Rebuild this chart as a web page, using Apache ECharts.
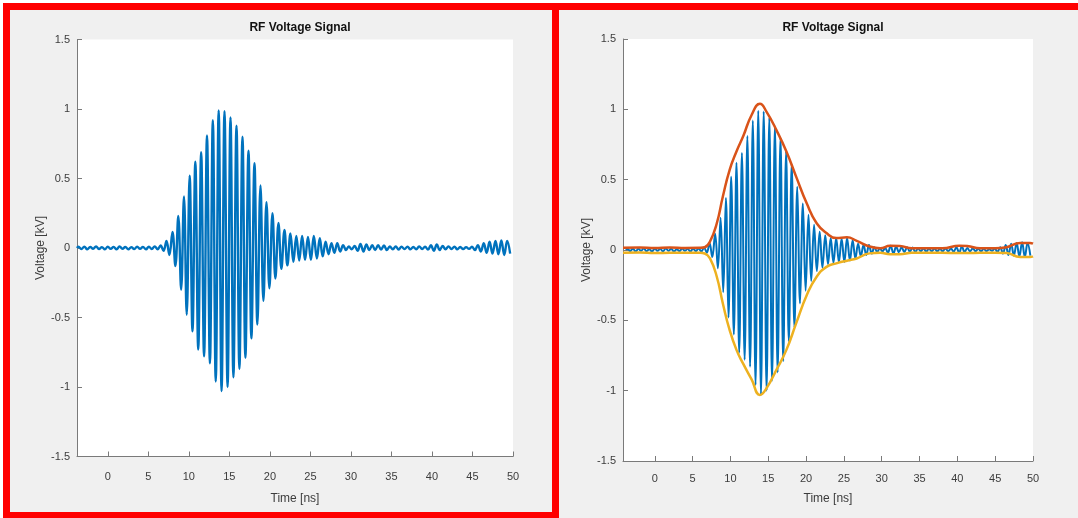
<!DOCTYPE html>
<html>
<head>
<meta charset="utf-8">
<script src="https://cdn.jsdelivr.net/npm/echarts@6/dist/echarts.min.js"></script>
<style>
html,body{margin:0;padding:0;background:#fff;}
#chart{width:1078px;height:518px;}
</style>
</head>
<body>
<div id="chart"></div>
<script>
// ---- data ----
const chartTitle = 'RF Voltage Signal';
const xAxisName = 'Time [ns]';
const yAxisName = 'Voltage [kV]';
const xTickValues = [0, 5, 10, 15, 20, 25, 30, 35, 40, 45, 50];

// RF signal: successive extremes (time in ns)
const timeNs = [
  -3.80, -3.62, -3.26, -2.90, -2.53, -2.17, -1.81, -1.45, -1.09, -0.72, -0.36, 0.00,
  0.36, 0.72, 1.09, 1.45, 1.81, 2.17, 2.53, 2.90, 3.26, 3.62, 3.98, 4.34, 4.71, 5.07,
  5.43, 5.79, 6.15, 6.52, 6.88,
  7.24, 7.60, 7.98, 8.34, 8.70, 9.05, 9.40, 9.74, 10.10, 10.45, 10.80, 11.16, 11.52,
  11.88, 12.24, 12.60, 12.96, 13.32, 13.68, 14.04, 14.40, 14.78, 15.14, 15.50, 15.88,
  16.24, 16.62, 16.98, 17.36, 17.72, 18.10, 18.46, 18.84, 19.20, 19.58, 19.94, 20.32,
  20.68, 21.06, 21.42, 21.80, 22.16, 22.54, 22.90, 23.26, 23.62, 23.98, 24.34, 24.70,
  25.06, 25.42, 25.80, 26.16, 26.52, 26.88, 27.24, 27.60, 27.96, 28.32, 28.68, 29.04,
  29.40, 29.74, 30.10,
  30.46, 30.82, 31.18, 31.55, 31.91, 32.27, 32.63, 32.99, 33.36, 33.72, 34.08, 34.44,
  34.80, 35.17, 35.53, 35.89, 36.25, 36.61, 36.98, 37.34, 37.70, 38.06, 38.42, 38.79,
  39.15, 39.51, 39.87, 40.23, 40.60, 40.96, 41.32, 41.68, 42.04, 42.41, 42.77, 43.13,
  43.49, 43.85, 44.22, 44.58, 44.94, 45.30, 45.66, 46.03, 46.39, 46.75, 47.11, 47.47,
  47.84, 48.20, 48.56, 48.92, 49.28, 49.65, 50.00
];
// RF signal values (kV) at those times
const voltageKv = [
  0.000, 0.010, -0.008, 0.010, -0.010, 0.008, -0.006, 0.012, -0.008, 0.006, -0.010, 0.010,
  -0.006, 0.008, -0.010, 0.012, -0.006, 0.008, -0.010, 0.006, -0.008, 0.010, -0.006, 0.008,
  -0.010, 0.010, -0.008, 0.012, -0.010, 0.018, -0.020,
  0.050, -0.050, 0.115, -0.130, 0.230, -0.300, 0.370, -0.480, 0.520, -0.600, 0.620, -0.730,
  0.690, -0.780, 0.810, -0.830, 0.920, -0.960, 0.990, -1.030, 0.985, -1.000, 0.940, -0.930,
  0.880, -0.870, 0.800, -0.790, 0.700, -0.650, 0.610, -0.550, 0.450, -0.380, 0.330, -0.290,
  0.250, -0.220, 0.180, -0.150, 0.130, -0.125, 0.105, -0.100, 0.086, -0.090, 0.086, -0.085,
  0.080, -0.085, 0.086, -0.075, 0.070, -0.060, 0.045, -0.045, 0.035, -0.035, 0.035, -0.025,
  0.020, -0.015, 0.012,
  -0.010, 0.015, -0.020, 0.030, -0.025, 0.025, -0.015, 0.020, -0.015, 0.020, -0.012, 0.018,
  -0.015, 0.012, -0.010, 0.012, -0.012, 0.010, -0.008, 0.010, -0.010, 0.008, -0.010, 0.012,
  -0.008, 0.010, -0.012, 0.020, -0.020, 0.025, -0.015, 0.015, -0.010, 0.012, -0.008, 0.010,
  -0.010, 0.008, -0.008, 0.006, -0.006, 0.010, -0.015, 0.020, -0.025, 0.035, -0.035, 0.045,
  -0.040, 0.050, -0.045, 0.055, -0.050, 0.050, -0.040
];

// Envelope (right panel)
const envTimeNs = [
  -4.2, -2.0, 0.0, 2.0, 4.0, 6.0, 6.6, 7.3, 8.2, 9.0, 9.9, 10.8, 11.7, 12.8, 13.9, 14.8,
  16.1, 17.4, 18.7, 20.1, 21.4, 22.7, 24.0, 25.4, 26.7, 28.4, 29.8, 31.1, 32.4, 34.0,
  36.0, 38.0, 40.3, 41.3, 43.0, 45.0, 46.5, 48.3, 49.6, 50.0
];
const upperEnvKv = [
  0.016, 0.018, 0.014, 0.018, 0.015, 0.016, 0.020, 0.060, 0.190, 0.380, 0.570, 0.700,
  0.810, 0.960, 1.040, 0.980, 0.850, 0.700, 0.520, 0.330, 0.190, 0.120, 0.085, 0.090,
  0.065, 0.025, 0.012, 0.030, 0.028, 0.012, 0.012, 0.012, 0.030, 0.028, 0.012, 0.012,
  0.020, 0.050, 0.050, 0.045
];
const lowerEnvKv = [
  -0.020, -0.018, -0.022, -0.020, -0.020, -0.020, -0.025, -0.060, -0.190, -0.380, -0.570,
  -0.710, -0.810, -0.920, -1.030, -0.980, -0.850, -0.710, -0.520, -0.320, -0.190, -0.120,
  -0.095, -0.076, -0.060, -0.024, -0.020, -0.030, -0.030, -0.020, -0.020, -0.020, -0.022,
  -0.022, -0.020, -0.020, -0.022, -0.050, -0.050, -0.045
];

// ---- chart ----
const signalPts = timeNs.map((t, i) => [t, voltageKv[i]]);
const upperPts = envTimeNs.map((t, i) => [t, upperEnvKv[i]]);
const lowerPts = envTimeNs.map((t, i) => [t, lowerEnvKv[i]]);

const axisGray = '#7a7a7a';
const textGray = '#3c3c3c';
const fontFam = '"Liberation Sans", Arial, sans-serif';

function xAxisCfg(gi, minV, labelMargin, nameGap) {
  return {
    gridIndex: gi, type: 'value', min: minV, max: 50,
    name: xAxisName, nameLocation: 'middle', nameGap: nameGap,
    nameTextStyle: { fontSize: 12, color: textGray, fontFamily: fontFam },
    axisLine: { show: true, onZero: false, lineStyle: { color: axisGray, width: 1 } },
    axisTick: { show: true, inside: true, length: 5, customValues: xTickValues, lineStyle: { color: axisGray } },
    axisLabel: { customValues: xTickValues, margin: labelMargin, fontSize: 11, color: textGray, fontFamily: fontFam },
    splitLine: { show: false }
  };
}
function yAxisCfg(gi) {
  return {
    gridIndex: gi, type: 'value', min: -1.5, max: 1.5, interval: 0.5,
    name: yAxisName, nameLocation: 'middle', nameGap: 28, nameRotate: 90,
    nameTextStyle: { fontSize: 12, color: textGray, fontFamily: fontFam },
    axisLine: { show: true, onZero: false, lineStyle: { color: axisGray, width: 1 } },
    axisTick: { show: true, inside: true, length: 5, lineStyle: { color: axisGray } },
    axisLabel: { margin: 7, fontSize: 11, color: textGray, fontFamily: fontFam },
    splitLine: { show: false }
  };
}

const chart = echarts.init(document.getElementById('chart'), null, { renderer: 'canvas' });
chart.setOption({
  animation: false,
  backgroundColor: '#ffffff',
  graphic: [
    { type: 'rect', z: -10, shape: { x: 6.5, y: 6.5, width: 549, height: 509 },
      style: { fill: '#f0f0f0', stroke: '#ff0000', lineWidth: 7 } },
    { type: 'rect', z: -11, shape: { x: 555.5, y: 6.5, width: 540, height: 530 },
      style: { fill: '#f0f0f0', stroke: '#ff0000', lineWidth: 7 } }
  ],
  title: [
    { text: chartTitle, left: 295, top: 17, textAlign: 'center',
      textStyle: { fontSize: 12, fontWeight: 'bold', color: '#111', fontFamily: fontFam } },
    { text: chartTitle, left: 828, top: 17, textAlign: 'center',
      textStyle: { fontSize: 12, fontWeight: 'bold', color: '#111', fontFamily: fontFam } }
  ],
  grid: [
    { left: 77, right: 565, top: 39.5, bottom: 61.5, show: true, backgroundColor: '#ffffff', borderWidth: 0 },
    { left: 623, right: 45, top: 39, bottom: 57, show: true, backgroundColor: '#ffffff', borderWidth: 0 }
  ],
  xAxis: [xAxisCfg(0, -3.8, 15, 36), xAxisCfg(1, -4.2, 12, 32)],
  yAxis: [yAxisCfg(0), yAxisCfg(1)],
  series: [
    { type: 'line', xAxisIndex: 0, yAxisIndex: 0, data: signalPts, showSymbol: false, smooth: 0.4,
      lineStyle: { color: '#0072BD', width: 2.4 }, clip: true },
    { type: 'line', xAxisIndex: 1, yAxisIndex: 1, data: signalPts, showSymbol: false, smooth: 0.4,
      lineStyle: { color: '#0072BD', width: 2 }, clip: true },
    { type: 'line', xAxisIndex: 1, yAxisIndex: 1, data: upperPts, showSymbol: false, smooth: 0.5,
      lineStyle: { color: '#D95319', width: 2.5 }, z: 3 },
    { type: 'line', xAxisIndex: 1, yAxisIndex: 1, data: lowerPts, showSymbol: false, smooth: 0.5,
      lineStyle: { color: '#EDB120', width: 2.5 }, z: 3 }
  ]
});
</script>
</body>
</html>
